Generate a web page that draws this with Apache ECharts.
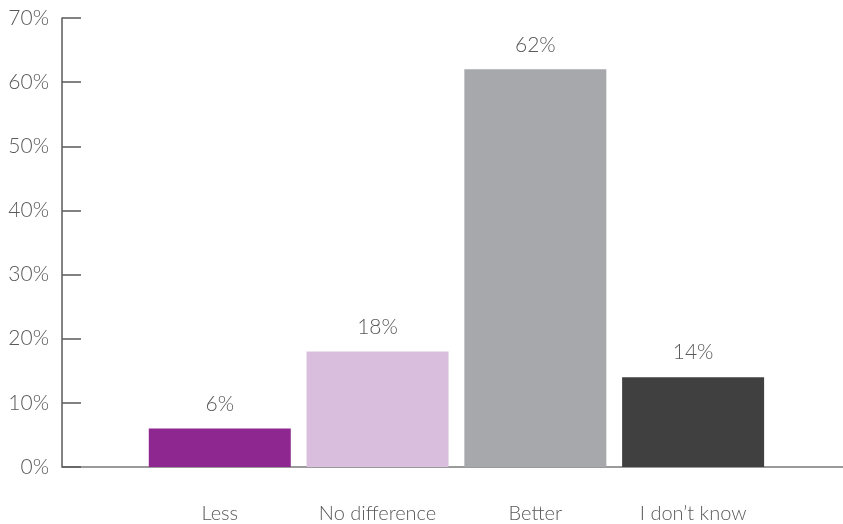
<!DOCTYPE html>
<html><head><meta charset="utf-8">
<script src="https://cdn.jsdelivr.net/npm/echarts@6/dist/echarts.min.js"></script>
<style>html,body{margin:0;padding:0;background:#fff}#c{width:843px;height:524px}</style>
</head><body><div id="c"></div>
<script>
const categories = ['Less', 'No difference', 'Better', "I don\u2019t know"];
const values = [6, 18, 62, 14];
const colors = ['#8E278F', '#D9BFDD', '#A7A8AB', '#404040'];
const yTicks = [0, 10, 20, 30, 40, 50, 60, 70];

const chart = echarts.init(document.getElementById('c'));
const font = 'Lato, "Open Sans", sans-serif';
chart.setOption({
  animation: false,
  grid: { left: 62, right: 0, top: 18, bottom: 57 },
  xAxis: {
    type: 'value', min: -1, max: 3.95, interval: 1,
    splitLine: { show: false },
    axisLine: { show: true, onZero: false, lineStyle: { color: '#7a7a7a', width: 1.5 } },
    axisTick: { show: false },
    axisLabel: {
      showMaxLabel: false, margin: 37,
      color: '#595959', fontSize: 20, fontFamily: font, fontWeight: 300,
      formatter: v => (Number.isInteger(v) && v >= 0 && v < categories.length) ? categories[v] : ''
    }
  },
  yAxis: {
    type: 'value', min: 0, max: 70, interval: 10,
    splitLine: { show: false },
    axisLine: { show: true, onZero: false, lineStyle: { color: '#5a5a5a', width: 1.5 } },
    axisTick: { show: true, inside: true, length: 19, lineStyle: { color: '#5a5a5a', width: 1.5 } },
    axisLabel: {
      margin: 13, color: '#595959', fontSize: 21, fontFamily: font, fontWeight: 300,
      formatter: v => yTicks.includes(v) ? v + '%' : ''
    }
  },
  series: [{
    type: 'bar',
    barWidth: 142,
    data: values.map((v, i) => ({ value: [i, v], itemStyle: { color: colors[i] } })),
    label: {
      show: true, position: 'top', distance: 14,
      color: '#595959', fontSize: 21, fontFamily: font, fontWeight: 300,
      formatter: p => p.value[1] + '%'
    }
  }]
});
</script></body></html>
